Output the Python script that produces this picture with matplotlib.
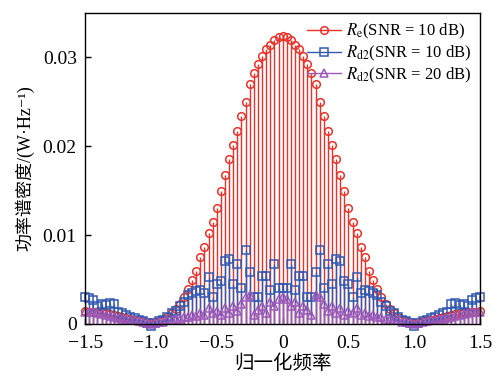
import numpy as np
import matplotlib
matplotlib.use("Agg")
import matplotlib.pyplot as plt
from matplotlib.legend_handler import HandlerLine2D
from matplotlib.lines import Line2D

plt.rcParams['font.family'] = ['Liberation Serif', 'Noto Sans CJK SC', 'DejaVu Serif']
plt.rcParams['mathtext.fontset'] = 'stix'

# normalized frequency grid (97 bins, step 1/32)
freq = np.linspace(-1.5, 1.5, 97)

red = [0.0015, 0.0014, 0.0014, 0.0013, 0.0013, 0.0012, 0.0011, 0.0010, 0.0009, 0.0008,
       0.0007, 0.0006, 0.0005, 0.0004, 0.0003, 0.0002, 0.0001, 0.0002, 0.0003, 0.0005,
       0.0008, 0.0012, 0.0017, 0.0023, 0.0030, 0.0039, 0.0050, 0.0060, 0.0075, 0.0087,
       0.0102, 0.0115, 0.0131, 0.0150, 0.0168, 0.0186, 0.0201, 0.0217, 0.0234, 0.0250,
       0.0270, 0.0282, 0.0292, 0.0301, 0.0309, 0.0314, 0.0319, 0.0323,
       0.0324,
       0.0323, 0.0319, 0.0314, 0.0309, 0.0301, 0.0292, 0.0282, 0.0270, 0.0250, 0.0234,
       0.0217, 0.0201, 0.0186, 0.0168, 0.0150, 0.0131, 0.0115, 0.0102, 0.0087, 0.0075,
       0.0060, 0.0050, 0.0039, 0.0030, 0.0023, 0.0017, 0.0012, 0.0008, 0.0005, 0.0003,
       0.0002, 0.0001, 0.0002, 0.0003, 0.0004, 0.0005, 0.0006, 0.0007, 0.0008, 0.0009,
       0.0010, 0.0011, 0.0012, 0.0013, 0.0013, 0.0014, 0.0014, 0.0015]
blue = [0.0030, 0.0029, 0.0027, 0.0020, 0.0022, 0.0021, 0.0024, 0.0022, 0.0013, 0.0012,
        0.0010, 0.0008, 0.0007, 0.0005, 0.0003, 0.0001, -0.0002, 0.0001, 0.0003, 0.0005,
        0.0008, 0.0012, 0.0015, 0.0020, 0.0025, 0.0033, 0.0035, 0.0037, 0.0038, 0.0035,
        0.0053, 0.0030, 0.0045, 0.0048, 0.0071, 0.0073, 0.0045, 0.0068, 0.0040, 0.0083,
        0.0058, 0.0030, 0.0030, 0.0054, 0.0054, 0.0038, 0.0067, 0.0041,
        0.0041,
        0.0041, 0.0067, 0.0038, 0.0054, 0.0054, 0.0030, 0.0030, 0.0058, 0.0083, 0.0040,
        0.0068, 0.0045, 0.0073, 0.0071, 0.0048, 0.0045, 0.0030, 0.0053, 0.0035, 0.0038,
        0.0037, 0.0035, 0.0033, 0.0025, 0.0020, 0.0015, 0.0012, 0.0008, 0.0005, 0.0003,
        0.0001, -0.0002, 0.0001, 0.0003, 0.0005, 0.0007, 0.0008, 0.0010, 0.0012, 0.0013,
        0.0022, 0.0024, 0.0021, 0.0022, 0.0020, 0.0027, 0.0029, 0.0030]
purple = [0.0014, 0.0013, 0.0013, 0.0012, 0.0011, 0.0010, 0.0009, 0.0008, 0.0007, 0.0006,
          0.0006, 0.0005, 0.0004, 0.0003, 0.0002, 0.0001, 0.0000, 0.0001, 0.0002, 0.0002,
          0.0004, 0.0004, 0.0006, 0.0006, 0.0008, 0.0008, 0.0010, 0.0009, 0.0012, 0.0010,
          0.0018, 0.0012, 0.0015, 0.0010, 0.0018, 0.0012, 0.0020, 0.0015, 0.0022, 0.0030,
          0.0033, 0.0010, 0.0016, 0.0020, 0.0012, 0.0025, 0.0020, 0.0028,
          0.0030,
          0.0028, 0.0020, 0.0025, 0.0012, 0.0020, 0.0016, 0.0010, 0.0033, 0.0030, 0.0022,
          0.0015, 0.0020, 0.0012, 0.0018, 0.0010, 0.0015, 0.0012, 0.0018, 0.0010, 0.0012,
          0.0009, 0.0010, 0.0008, 0.0008, 0.0006, 0.0006, 0.0004, 0.0004, 0.0002, 0.0002,
          0.0001, 0.0000, 0.0001, 0.0002, 0.0003, 0.0004, 0.0005, 0.0006, 0.0006, 0.0007,
          0.0008, 0.0009, 0.0010, 0.0011, 0.0012, 0.0013, 0.0013, 0.0014]

labels = [r'$R_\mathrm{e}$(SNR = 10 dB)', r'$R_\mathrm{d2}$(SNR = 10 dB)',
          r'$R_\mathrm{d2}$(SNR = 20 dB)']
colors = ['#ee3028', '#3158b2', '#9c58b8']
markers = ['o', 's', '^']
series = [red, blue, purple]

xticks = [-1.5, -1.0, -0.5, 0, 0.5, 1.0, 1.5]
xticklabels = ['\u22121.5', '\u22121.0', '\u22120.5', '0', '0.5', '1.0', '1.5']
yticks = [0, 0.01, 0.02, 0.03]
yticklabels = ['0', '0.01', '0.02', '0.03']

fig = plt.figure(figsize=(4.95, 3.78), dpi=100)
ax = fig.add_axes([0.172, 0.143, 0.798, 0.823])

handles = []
for vals, c, m, lab in zip(series, colors, markers, labels):
    ml, sl, bl = ax.stem(freq, vals, basefmt=' ')
    plt.setp(sl, color=c, linewidth=1.0)
    plt.setp(ml, marker=m, markersize=5.5, markerfacecolor='none',
             markeredgecolor=c, markeredgewidth=1.1, clip_on=False)
    handles.append(Line2D([], [], color=c, marker=m, markersize=5.5,
                          markerfacecolor='none', markeredgecolor=c,
                          markeredgewidth=1.1, linewidth=1.0, label=lab))


class RightMarkerHandler(HandlerLine2D):
    def get_xdata(self, legend, xdescent, ydescent, width, height, fontsize):
        xdata = [-xdescent, -xdescent + width]
        xdata_marker = [-xdescent + width - 2]
        return xdata, xdata_marker


ax.legend(handles=handles, loc='upper right', frameon=False, fontsize=12,
          handlelength=2.0, handletextpad=0.3, labelspacing=0.15,
          borderaxespad=0.15,
          handler_map={Line2D: RightMarkerHandler(numpoints=1)})

ax.set_xlim(-1.5, 1.5)
ax.set_ylim(0, 0.035)
ax.set_xticks(xticks)
ax.set_xticklabels(xticklabels)
ax.set_yticks(yticks)
ax.set_yticklabels(yticklabels)
ax.tick_params(direction='in', labelsize=14, length=4, width=1)
ax.tick_params(axis='x', pad=8)
ax.tick_params(axis='y', pad=6)
for s in ax.spines.values():
    s.set_linewidth(1.0)

ax.set_xlabel('归一化频率', fontsize=14, family=['Noto Sans CJK SC'], labelpad=1)
ax.set_ylabel('功率谱密度/(W·Hz⁻¹)', fontsize=13,
              family=['Liberation Serif', 'Noto Sans CJK SC', 'DejaVu Serif'],
              labelpad=6)

fig.savefig('out.png', dpi=100)
